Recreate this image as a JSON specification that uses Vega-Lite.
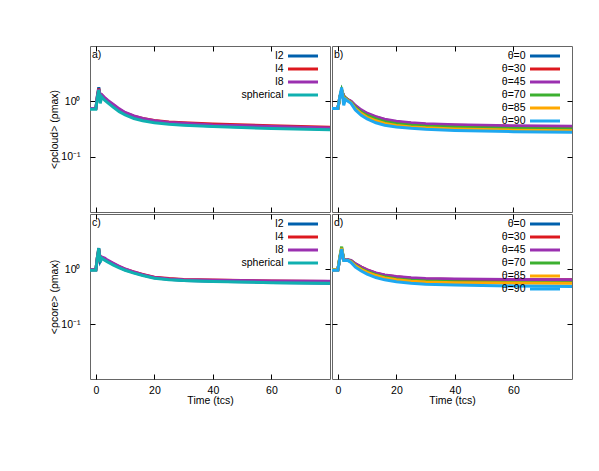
{
"$schema":"https://vega.github.io/schema/vega-lite/v6.json",
"padding":{"left":49,"top":45,"right":5,"bottom":5},
"config":{"font":"Liberation Sans","view":{"stroke":"#666","strokeWidth":1},"concat":{"spacing":0},
"axis":{"grid":false,"domain":false,"tickColor":"black","tickSize":-5,"labelFontSize":10.5,"titleFontSize":10.5,"titleFontWeight":"normal","labelColor":"black","titleColor":"black","labelPadding":11},
"axisY":{"labelPadding":15,"titlePadding":1},
"axisX":{"titlePadding":0},
"title":{"fontSize":10.5,"fontWeight":"normal","anchor":"start","frame":"group","offset":-15,"dx":2,"color":"black"},
"legend":{"orient":"none","title":null,"symbolType":"M-3.75,0H3.75","symbolSize":64,"symbolStrokeWidth":3,"symbolFillColor":"transparent","labelAlign":"right","labelOffset":-25,"labelFontSize":10.5,"labelColor":"black","rowPadding":0}},
"data":{"values":[
{"p":"a","s":"l2","t":-2,"v":0.74},{"p":"a","s":"l2","t":0,"v":0.74},{"p":"a","s":"l2","t":0.5,"v":1.25},{"p":"a","s":"l2","t":1,"v":1.8},{"p":"a","s":"l2","t":1.5,"v":1.15},{"p":"a","s":"l2","t":2,"v":1.28},{"p":"a","s":"l2","t":3,"v":1.12},{"p":"a","s":"l2","t":4,"v":1.0},{"p":"a","s":"l2","t":6,"v":0.83},{"p":"a","s":"l2","t":8,"v":0.69},{"p":"a","s":"l2","t":10,"v":0.6},{"p":"a","s":"l2","t":13,"v":0.52},{"p":"a","s":"l2","t":16,"v":0.47},{"p":"a","s":"l2","t":20,"v":0.43},{"p":"a","s":"l2","t":25,"v":0.4},{"p":"a","s":"l2","t":30,"v":0.38},{"p":"a","s":"l2","t":40,"v":0.36},{"p":"a","s":"l2","t":60,"v":0.335},{"p":"a","s":"l2","t":80,"v":0.316},
{"p":"a","s":"l4","t":-2,"v":0.74},{"p":"a","s":"l4","t":0,"v":0.74},{"p":"a","s":"l4","t":0.5,"v":1.2},{"p":"a","s":"l4","t":1,"v":1.7},{"p":"a","s":"l4","t":1.5,"v":1.2},{"p":"a","s":"l4","t":2,"v":1.3},{"p":"a","s":"l4","t":3,"v":1.14},{"p":"a","s":"l4","t":4,"v":1.02},{"p":"a","s":"l4","t":6,"v":0.85},{"p":"a","s":"l4","t":8,"v":0.71},{"p":"a","s":"l4","t":10,"v":0.62},{"p":"a","s":"l4","t":13,"v":0.54},{"p":"a","s":"l4","t":16,"v":0.49},{"p":"a","s":"l4","t":20,"v":0.45},{"p":"a","s":"l4","t":25,"v":0.425},{"p":"a","s":"l4","t":30,"v":0.41},{"p":"a","s":"l4","t":40,"v":0.39},{"p":"a","s":"l4","t":60,"v":0.362},{"p":"a","s":"l4","t":80,"v":0.34},
{"p":"a","s":"l8","t":-2,"v":0.74},{"p":"a","s":"l8","t":0,"v":0.74},{"p":"a","s":"l8","t":0.5,"v":1.2},{"p":"a","s":"l8","t":1,"v":1.65},{"p":"a","s":"l8","t":1.5,"v":1.22},{"p":"a","s":"l8","t":2,"v":1.32},{"p":"a","s":"l8","t":3,"v":1.17},{"p":"a","s":"l8","t":4,"v":1.05},{"p":"a","s":"l8","t":6,"v":0.88},{"p":"a","s":"l8","t":8,"v":0.73},{"p":"a","s":"l8","t":10,"v":0.63},{"p":"a","s":"l8","t":13,"v":0.545},{"p":"a","s":"l8","t":16,"v":0.49},{"p":"a","s":"l8","t":20,"v":0.445},{"p":"a","s":"l8","t":25,"v":0.415},{"p":"a","s":"l8","t":30,"v":0.4},{"p":"a","s":"l8","t":40,"v":0.375},{"p":"a","s":"l8","t":60,"v":0.35},{"p":"a","s":"l8","t":80,"v":0.33},
{"p":"a","s":"spherical","t":-2,"v":0.72},{"p":"a","s":"spherical","t":0,"v":0.72},{"p":"a","s":"spherical","t":0.5,"v":1.15},{"p":"a","s":"spherical","t":1,"v":1.6},{"p":"a","s":"spherical","t":1.5,"v":0.92},{"p":"a","s":"spherical","t":2,"v":1.2},{"p":"a","s":"spherical","t":3,"v":1.05},{"p":"a","s":"spherical","t":4,"v":0.95},{"p":"a","s":"spherical","t":6,"v":0.78},{"p":"a","s":"spherical","t":8,"v":0.65},{"p":"a","s":"spherical","t":10,"v":0.57},{"p":"a","s":"spherical","t":13,"v":0.49},{"p":"a","s":"spherical","t":16,"v":0.445},{"p":"a","s":"spherical","t":20,"v":0.41},{"p":"a","s":"spherical","t":25,"v":0.385},{"p":"a","s":"spherical","t":30,"v":0.37},{"p":"a","s":"spherical","t":40,"v":0.35},{"p":"a","s":"spherical","t":60,"v":0.323},{"p":"a","s":"spherical","t":80,"v":0.305},
{"p":"b","s":"θ=0","t":-2,"v":0.74},{"p":"b","s":"θ=0","t":0,"v":0.74},{"p":"b","s":"θ=0","t":0.7,"v":1.2},{"p":"b","s":"θ=0","t":1.3,"v":1.6},{"p":"b","s":"θ=0","t":2,"v":1.25},{"p":"b","s":"θ=0","t":2.6,"v":1.15},{"p":"b","s":"θ=0","t":3.5,"v":1.05},{"p":"b","s":"θ=0","t":4.5,"v":0.98},{"p":"b","s":"θ=0","t":6,"v":0.81},{"p":"b","s":"θ=0","t":8,"v":0.67},{"p":"b","s":"θ=0","t":10,"v":0.585},{"p":"b","s":"θ=0","t":13,"v":0.51},{"p":"b","s":"θ=0","t":16,"v":0.455},{"p":"b","s":"θ=0","t":20,"v":0.415},{"p":"b","s":"θ=0","t":25,"v":0.393},{"p":"b","s":"θ=0","t":30,"v":0.378},{"p":"b","s":"θ=0","t":40,"v":0.362},{"p":"b","s":"θ=0","t":60,"v":0.345},{"p":"b","s":"θ=0","t":80,"v":0.336},
{"p":"b","s":"θ=30","t":-2,"v":0.74},{"p":"b","s":"θ=30","t":0,"v":0.74},{"p":"b","s":"θ=30","t":0.7,"v":1.2},{"p":"b","s":"θ=30","t":1.3,"v":1.55},{"p":"b","s":"θ=30","t":2,"v":1.25},{"p":"b","s":"θ=30","t":2.6,"v":1.15},{"p":"b","s":"θ=30","t":3.5,"v":1.06},{"p":"b","s":"θ=30","t":4.5,"v":0.99},{"p":"b","s":"θ=30","t":6,"v":0.82},{"p":"b","s":"θ=30","t":8,"v":0.68},{"p":"b","s":"θ=30","t":10,"v":0.595},{"p":"b","s":"θ=30","t":13,"v":0.52},{"p":"b","s":"θ=30","t":16,"v":0.465},{"p":"b","s":"θ=30","t":20,"v":0.425},{"p":"b","s":"θ=30","t":25,"v":0.4},{"p":"b","s":"θ=30","t":30,"v":0.385},{"p":"b","s":"θ=30","t":40,"v":0.369},{"p":"b","s":"θ=30","t":60,"v":0.352},{"p":"b","s":"θ=30","t":80,"v":0.342},
{"p":"b","s":"θ=45","t":-2,"v":0.74},{"p":"b","s":"θ=45","t":0,"v":0.74},{"p":"b","s":"θ=45","t":0.7,"v":1.2},{"p":"b","s":"θ=45","t":1.3,"v":1.5},{"p":"b","s":"θ=45","t":2,"v":1.25},{"p":"b","s":"θ=45","t":2.6,"v":1.15},{"p":"b","s":"θ=45","t":3.5,"v":1.07},{"p":"b","s":"θ=45","t":4.5,"v":1.0},{"p":"b","s":"θ=45","t":6,"v":0.84},{"p":"b","s":"θ=45","t":8,"v":0.7},{"p":"b","s":"θ=45","t":10,"v":0.61},{"p":"b","s":"θ=45","t":13,"v":0.53},{"p":"b","s":"θ=45","t":16,"v":0.475},{"p":"b","s":"θ=45","t":20,"v":0.435},{"p":"b","s":"θ=45","t":25,"v":0.41},{"p":"b","s":"θ=45","t":30,"v":0.395},{"p":"b","s":"θ=45","t":40,"v":0.378},{"p":"b","s":"θ=45","t":60,"v":0.362},{"p":"b","s":"θ=45","t":80,"v":0.355},
{"p":"b","s":"θ=70","t":-2,"v":0.74},{"p":"b","s":"θ=70","t":0,"v":0.74},{"p":"b","s":"θ=70","t":0.7,"v":1.2},{"p":"b","s":"θ=70","t":1.3,"v":1.6},{"p":"b","s":"θ=70","t":2,"v":1.2},{"p":"b","s":"θ=70","t":2.6,"v":1.15},{"p":"b","s":"θ=70","t":3.5,"v":1.04},{"p":"b","s":"θ=70","t":4.5,"v":0.96},{"p":"b","s":"θ=70","t":6,"v":0.78},{"p":"b","s":"θ=70","t":8,"v":0.64},{"p":"b","s":"θ=70","t":10,"v":0.555},{"p":"b","s":"θ=70","t":13,"v":0.48},{"p":"b","s":"θ=70","t":16,"v":0.43},{"p":"b","s":"θ=70","t":20,"v":0.393},{"p":"b","s":"θ=70","t":25,"v":0.37},{"p":"b","s":"θ=70","t":30,"v":0.356},{"p":"b","s":"θ=70","t":40,"v":0.34},{"p":"b","s":"θ=70","t":60,"v":0.323},{"p":"b","s":"θ=70","t":80,"v":0.315},
{"p":"b","s":"θ=85","t":-2,"v":0.74},{"p":"b","s":"θ=85","t":0,"v":0.74},{"p":"b","s":"θ=85","t":0.7,"v":1.2},{"p":"b","s":"θ=85","t":1.3,"v":1.65},{"p":"b","s":"θ=85","t":2,"v":1.1},{"p":"b","s":"θ=85","t":2.6,"v":1.12},{"p":"b","s":"θ=85","t":3.5,"v":1.02},{"p":"b","s":"θ=85","t":4.5,"v":0.94},{"p":"b","s":"θ=85","t":6,"v":0.74},{"p":"b","s":"θ=85","t":8,"v":0.6},{"p":"b","s":"θ=85","t":10,"v":0.515},{"p":"b","s":"θ=85","t":13,"v":0.445},{"p":"b","s":"θ=85","t":16,"v":0.4},{"p":"b","s":"θ=85","t":20,"v":0.367},{"p":"b","s":"θ=85","t":25,"v":0.345},{"p":"b","s":"θ=85","t":30,"v":0.332},{"p":"b","s":"θ=85","t":40,"v":0.317},{"p":"b","s":"θ=85","t":60,"v":0.301},{"p":"b","s":"θ=85","t":80,"v":0.294},
{"p":"b","s":"θ=90","t":-2,"v":0.74},{"p":"b","s":"θ=90","t":0,"v":0.74},{"p":"b","s":"θ=90","t":0.7,"v":1.25},{"p":"b","s":"θ=90","t":1.3,"v":1.77},{"p":"b","s":"θ=90","t":2,"v":0.85},{"p":"b","s":"θ=90","t":2.6,"v":1.09},{"p":"b","s":"θ=90","t":3.5,"v":1.0},{"p":"b","s":"θ=90","t":4.5,"v":0.92},{"p":"b","s":"θ=90","t":6,"v":0.7},{"p":"b","s":"θ=90","t":8,"v":0.56},{"p":"b","s":"θ=90","t":10,"v":0.48},{"p":"b","s":"θ=90","t":13,"v":0.41},{"p":"b","s":"θ=90","t":16,"v":0.37},{"p":"b","s":"θ=90","t":20,"v":0.345},{"p":"b","s":"θ=90","t":25,"v":0.325},{"p":"b","s":"θ=90","t":30,"v":0.312},{"p":"b","s":"θ=90","t":40,"v":0.298},{"p":"b","s":"θ=90","t":60,"v":0.283},{"p":"b","s":"θ=90","t":80,"v":0.275},
{"p":"c","s":"l2","t":-2,"v":0.97},{"p":"c","s":"l2","t":0,"v":0.97},{"p":"c","s":"l2","t":0.5,"v":1.6},{"p":"c","s":"l2","t":1,"v":2.4},{"p":"c","s":"l2","t":1.5,"v":1.4},{"p":"c","s":"l2","t":2,"v":1.6},{"p":"c","s":"l2","t":3,"v":1.5},{"p":"c","s":"l2","t":4,"v":1.38},{"p":"c","s":"l2","t":6,"v":1.22},{"p":"c","s":"l2","t":8,"v":1.08},{"p":"c","s":"l2","t":10,"v":0.97},{"p":"c","s":"l2","t":13,"v":0.86},{"p":"c","s":"l2","t":16,"v":0.78},{"p":"c","s":"l2","t":20,"v":0.69},{"p":"c","s":"l2","t":25,"v":0.65},{"p":"c","s":"l2","t":30,"v":0.62},{"p":"c","s":"l2","t":40,"v":0.6},{"p":"c","s":"l2","t":60,"v":0.57},{"p":"c","s":"l2","t":80,"v":0.55},
{"p":"c","s":"l4","t":-2,"v":0.97},{"p":"c","s":"l4","t":0,"v":0.97},{"p":"c","s":"l4","t":0.5,"v":1.6},{"p":"c","s":"l4","t":1,"v":2.3},{"p":"c","s":"l4","t":1.5,"v":1.5},{"p":"c","s":"l4","t":2,"v":1.62},{"p":"c","s":"l4","t":3,"v":1.52},{"p":"c","s":"l4","t":4,"v":1.4},{"p":"c","s":"l4","t":6,"v":1.24},{"p":"c","s":"l4","t":8,"v":1.1},{"p":"c","s":"l4","t":10,"v":0.99},{"p":"c","s":"l4","t":13,"v":0.88},{"p":"c","s":"l4","t":16,"v":0.8},{"p":"c","s":"l4","t":20,"v":0.71},{"p":"c","s":"l4","t":25,"v":0.67},{"p":"c","s":"l4","t":30,"v":0.645},{"p":"c","s":"l4","t":40,"v":0.63},{"p":"c","s":"l4","t":60,"v":0.605},{"p":"c","s":"l4","t":80,"v":0.595},
{"p":"c","s":"l8","t":-2,"v":0.97},{"p":"c","s":"l8","t":0,"v":0.97},{"p":"c","s":"l8","t":0.5,"v":1.55},{"p":"c","s":"l8","t":1,"v":2.2},{"p":"c","s":"l8","t":1.5,"v":1.55},{"p":"c","s":"l8","t":2,"v":1.65},{"p":"c","s":"l8","t":3,"v":1.58},{"p":"c","s":"l8","t":4,"v":1.45},{"p":"c","s":"l8","t":6,"v":1.27},{"p":"c","s":"l8","t":8,"v":1.12},{"p":"c","s":"l8","t":10,"v":1.0},{"p":"c","s":"l8","t":13,"v":0.88},{"p":"c","s":"l8","t":16,"v":0.79},{"p":"c","s":"l8","t":20,"v":0.7},{"p":"c","s":"l8","t":25,"v":0.66},{"p":"c","s":"l8","t":30,"v":0.64},{"p":"c","s":"l8","t":40,"v":0.625},{"p":"c","s":"l8","t":60,"v":0.605},{"p":"c","s":"l8","t":80,"v":0.6},
{"p":"c","s":"spherical","t":-2,"v":0.95},{"p":"c","s":"spherical","t":0,"v":0.95},{"p":"c","s":"spherical","t":0.5,"v":1.6},{"p":"c","s":"spherical","t":1,"v":2.38},{"p":"c","s":"spherical","t":1.5,"v":1.32},{"p":"c","s":"spherical","t":2,"v":1.58},{"p":"c","s":"spherical","t":3,"v":1.45},{"p":"c","s":"spherical","t":4,"v":1.35},{"p":"c","s":"spherical","t":6,"v":1.18},{"p":"c","s":"spherical","t":8,"v":1.05},{"p":"c","s":"spherical","t":10,"v":0.95},{"p":"c","s":"spherical","t":13,"v":0.84},{"p":"c","s":"spherical","t":16,"v":0.76},{"p":"c","s":"spherical","t":20,"v":0.68},{"p":"c","s":"spherical","t":25,"v":0.64},{"p":"c","s":"spherical","t":30,"v":0.615},{"p":"c","s":"spherical","t":40,"v":0.595},{"p":"c","s":"spherical","t":60,"v":0.565},{"p":"c","s":"spherical","t":80,"v":0.55},
{"p":"d","s":"θ=0","t":-2,"v":0.97},{"p":"d","s":"θ=0","t":0,"v":0.97},{"p":"d","s":"θ=0","t":0.7,"v":1.6},{"p":"d","s":"θ=0","t":1.3,"v":2.3},{"p":"d","s":"θ=0","t":2,"v":1.5},{"p":"d","s":"θ=0","t":2.6,"v":1.45},{"p":"d","s":"θ=0","t":3.5,"v":1.45},{"p":"d","s":"θ=0","t":4.5,"v":1.4},{"p":"d","s":"θ=0","t":6,"v":1.2},{"p":"d","s":"θ=0","t":8,"v":1.04},{"p":"d","s":"θ=0","t":10,"v":0.93},{"p":"d","s":"θ=0","t":13,"v":0.82},{"p":"d","s":"θ=0","t":16,"v":0.75},{"p":"d","s":"θ=0","t":20,"v":0.68},{"p":"d","s":"θ=0","t":25,"v":0.645},{"p":"d","s":"θ=0","t":30,"v":0.625},{"p":"d","s":"θ=0","t":40,"v":0.605},{"p":"d","s":"θ=0","t":60,"v":0.587},{"p":"d","s":"θ=0","t":80,"v":0.578},
{"p":"d","s":"θ=30","t":-2,"v":0.97},{"p":"d","s":"θ=30","t":0,"v":0.97},{"p":"d","s":"θ=30","t":0.7,"v":1.6},{"p":"d","s":"θ=30","t":1.3,"v":2.3},{"p":"d","s":"θ=30","t":2,"v":1.5},{"p":"d","s":"θ=30","t":2.6,"v":1.45},{"p":"d","s":"θ=30","t":3.5,"v":1.46},{"p":"d","s":"θ=30","t":4.5,"v":1.42},{"p":"d","s":"θ=30","t":6,"v":1.24},{"p":"d","s":"θ=30","t":8,"v":1.08},{"p":"d","s":"θ=30","t":10,"v":0.96},{"p":"d","s":"θ=30","t":13,"v":0.84},{"p":"d","s":"θ=30","t":16,"v":0.77},{"p":"d","s":"θ=30","t":20,"v":0.72},{"p":"d","s":"θ=30","t":25,"v":0.68},{"p":"d","s":"θ=30","t":30,"v":0.66},{"p":"d","s":"θ=30","t":40,"v":0.645},{"p":"d","s":"θ=30","t":60,"v":0.637},{"p":"d","s":"θ=30","t":80,"v":0.635},
{"p":"d","s":"θ=45","t":-2,"v":0.97},{"p":"d","s":"θ=45","t":0,"v":0.97},{"p":"d","s":"θ=45","t":0.7,"v":1.6},{"p":"d","s":"θ=45","t":1.3,"v":2.2},{"p":"d","s":"θ=45","t":2,"v":1.5},{"p":"d","s":"θ=45","t":2.6,"v":1.45},{"p":"d","s":"θ=45","t":3.5,"v":1.47},{"p":"d","s":"θ=45","t":4.5,"v":1.43},{"p":"d","s":"θ=45","t":6,"v":1.25},{"p":"d","s":"θ=45","t":8,"v":1.08},{"p":"d","s":"θ=45","t":10,"v":0.96},{"p":"d","s":"θ=45","t":13,"v":0.85},{"p":"d","s":"θ=45","t":16,"v":0.78},{"p":"d","s":"θ=45","t":20,"v":0.73},{"p":"d","s":"θ=45","t":25,"v":0.69},{"p":"d","s":"θ=45","t":30,"v":0.67},{"p":"d","s":"θ=45","t":40,"v":0.655},{"p":"d","s":"θ=45","t":60,"v":0.643},{"p":"d","s":"θ=45","t":80,"v":0.638},
{"p":"d","s":"θ=70","t":-2,"v":0.97},{"p":"d","s":"θ=70","t":0,"v":0.97},{"p":"d","s":"θ=70","t":0.7,"v":1.7},{"p":"d","s":"θ=70","t":1.3,"v":2.55},{"p":"d","s":"θ=70","t":2,"v":1.45},{"p":"d","s":"θ=70","t":2.6,"v":1.44},{"p":"d","s":"θ=70","t":3.5,"v":1.44},{"p":"d","s":"θ=70","t":4.5,"v":1.38},{"p":"d","s":"θ=70","t":6,"v":1.17},{"p":"d","s":"θ=70","t":8,"v":1.01},{"p":"d","s":"θ=70","t":10,"v":0.9},{"p":"d","s":"θ=70","t":13,"v":0.79},{"p":"d","s":"θ=70","t":16,"v":0.72},{"p":"d","s":"θ=70","t":20,"v":0.66},{"p":"d","s":"θ=70","t":25,"v":0.625},{"p":"d","s":"θ=70","t":30,"v":0.605},{"p":"d","s":"θ=70","t":40,"v":0.585},{"p":"d","s":"θ=70","t":60,"v":0.57},{"p":"d","s":"θ=70","t":80,"v":0.56},
{"p":"d","s":"θ=85","t":-2,"v":0.97},{"p":"d","s":"θ=85","t":0,"v":0.97},{"p":"d","s":"θ=85","t":0.7,"v":1.65},{"p":"d","s":"θ=85","t":1.3,"v":2.4},{"p":"d","s":"θ=85","t":2,"v":1.45},{"p":"d","s":"θ=85","t":2.6,"v":1.43},{"p":"d","s":"θ=85","t":3.5,"v":1.43},{"p":"d","s":"θ=85","t":4.5,"v":1.36},{"p":"d","s":"θ=85","t":6,"v":1.14},{"p":"d","s":"θ=85","t":8,"v":0.98},{"p":"d","s":"θ=85","t":10,"v":0.87},{"p":"d","s":"θ=85","t":13,"v":0.76},{"p":"d","s":"θ=85","t":16,"v":0.69},{"p":"d","s":"θ=85","t":20,"v":0.635},{"p":"d","s":"θ=85","t":25,"v":0.6},{"p":"d","s":"θ=85","t":30,"v":0.58},{"p":"d","s":"θ=85","t":40,"v":0.565},{"p":"d","s":"θ=85","t":60,"v":0.556},{"p":"d","s":"θ=85","t":80,"v":0.55},
{"p":"d","s":"θ=90","t":-2,"v":0.95},{"p":"d","s":"θ=90","t":0,"v":0.95},{"p":"d","s":"θ=90","t":0.7,"v":1.6},{"p":"d","s":"θ=90","t":1.3,"v":2.3},{"p":"d","s":"θ=90","t":2,"v":1.42},{"p":"d","s":"θ=90","t":2.6,"v":1.42},{"p":"d","s":"θ=90","t":3.5,"v":1.42},{"p":"d","s":"θ=90","t":4.5,"v":1.32},{"p":"d","s":"θ=90","t":6,"v":1.08},{"p":"d","s":"θ=90","t":8,"v":0.92},{"p":"d","s":"θ=90","t":10,"v":0.81},{"p":"d","s":"θ=90","t":13,"v":0.7},{"p":"d","s":"θ=90","t":16,"v":0.635},{"p":"d","s":"θ=90","t":20,"v":0.585},{"p":"d","s":"θ=90","t":25,"v":0.55},{"p":"d","s":"θ=90","t":30,"v":0.53},{"p":"d","s":"θ=90","t":40,"v":0.51},{"p":"d","s":"θ=90","t":60,"v":0.492},{"p":"d","s":"θ=90","t":80,"v":0.48}
]},
"resolve":{"scale":{"color":"independent"},"legend":{"color":"independent"}},
"vconcat":[
{"resolve":{"scale":{"color":"independent"},"legend":{"color":"independent"}},
"hconcat":[
{"width":240,"height":166,"title":{"text":"a)"},"transform":[{"filter":"datum.p=='a'"}],
"layer":[
{"mark":{"type":"line","strokeWidth":3,"clip":true},
"encoding":{
"x":{"field":"t","type":"quantitative","scale":{"domain":[-2,80],"nice":false,"zero":false},"axis":{"values":[0,20,40,60],"labels":false,"title":null}},
"y":{"field":"v","type":"quantitative","scale":{"type":"log","domain":[0.01,10],"nice":false},"axis":{"values":[0.1,1],"labelExpr":"datum.value > 0.5 ? '10⁰' : '10⁻¹'","title":"<ρcloud> (ρmax)"}},
"color":{"field":"s","type":"nominal","scale":{"domain":["l2","l4","l8","spherical"],"range":["#0060ad","#dd181f","#9b30b0","#10b0b0"]},"legend":{"legendX":207.5,"legendY":4.5,"rowPadding":0}}}},
{"mark":{"type":"line","opacity":0},
"encoding":{
"x":{"field":"t","type":"quantitative","axis":{"orient":"top","values":[0,20,40,60],"labels":false,"title":null}},
"y":{"field":"v","type":"quantitative","axis":{"orient":"right","values":[0.1,1],"labels":false,"title":null}}}}],
"resolve":{"axis":{"x":"independent","y":"independent"}}},
{"width":240,"height":166,"title":{"text":"b)"},"transform":[{"filter":"datum.p=='b'"}],
"layer":[
{"mark":{"type":"line","strokeWidth":3,"clip":true},
"encoding":{
"x":{"field":"t","type":"quantitative","scale":{"domain":[-2,80],"nice":false,"zero":false},"axis":{"values":[0,20,40,60],"labels":false,"title":null}},
"y":{"field":"v","type":"quantitative","scale":{"type":"log","domain":[0.01,10],"nice":false},"axis":{"values":[0.1,1],"labels":false,"title":null}},
"color":{"field":"s","type":"nominal","scale":{"domain":["θ=0","θ=30","θ=45","θ=70","θ=85","θ=90"],"range":["#0060ad","#dd181f","#9b30b0","#3cb030","#ffa800","#1ea8f0"]},"legend":{"legendX":207.5,"legendY":4.5,"rowPadding":0}}}},
{"mark":{"type":"line","opacity":0},
"encoding":{
"x":{"field":"t","type":"quantitative","axis":{"orient":"top","values":[0,20,40,60],"labels":false,"title":null}},
"y":{"field":"v","type":"quantitative","axis":{"orient":"right","values":[0.1,1],"labels":false,"title":null}}}}],
"resolve":{"axis":{"x":"independent","y":"independent"}}}
]},
{"resolve":{"scale":{"color":"independent"},"legend":{"color":"independent"}},
"hconcat":[
{"width":240,"height":165,"title":{"text":"c)"},"transform":[{"filter":"datum.p=='c'"}],
"layer":[
{"mark":{"type":"line","strokeWidth":3,"clip":true},
"encoding":{
"x":{"field":"t","type":"quantitative","scale":{"domain":[-2,80],"nice":false,"zero":false},"axis":{"values":[0,20,40,60],"title":"Time (tcs)"}},
"y":{"field":"v","type":"quantitative","scale":{"type":"log","domain":[0.01,10],"nice":false},"axis":{"values":[0.1,1],"labelExpr":"datum.value > 0.5 ? '10⁰' : '10⁻¹'","title":"<ρcore> (ρmax)"}},
"color":{"field":"s","type":"nominal","scale":{"domain":["l2","l4","l8","spherical"],"range":["#0060ad","#dd181f","#9b30b0","#10b0b0"]},"legend":{"legendX":207.5,"legendY":4.5,"rowPadding":0}}}},
{"mark":{"type":"line","opacity":0},
"encoding":{
"x":{"field":"t","type":"quantitative","axis":{"orient":"top","values":[0,20,40,60],"labels":false,"title":null}},
"y":{"field":"v","type":"quantitative","axis":{"orient":"right","values":[0.1,1],"labels":false,"title":null}}}}],
"resolve":{"axis":{"x":"independent","y":"independent"}}},
{"width":240,"height":165,"title":{"text":"d)"},"transform":[{"filter":"datum.p=='d'"}],
"layer":[
{"mark":{"type":"line","strokeWidth":3,"clip":true},
"encoding":{
"x":{"field":"t","type":"quantitative","scale":{"domain":[-2,80],"nice":false,"zero":false},"axis":{"values":[0,20,40,60],"title":"Time (tcs)"}},
"y":{"field":"v","type":"quantitative","scale":{"type":"log","domain":[0.01,10],"nice":false},"axis":{"values":[0.1,1],"labels":false,"title":null}},
"color":{"field":"s","type":"nominal","scale":{"domain":["θ=0","θ=30","θ=45","θ=70","θ=85","θ=90"],"range":["#0060ad","#dd181f","#9b30b0","#3cb030","#ffa800","#1ea8f0"]},"legend":{"legendX":207.5,"legendY":4.5,"rowPadding":0}}}},
{"mark":{"type":"line","opacity":0},
"encoding":{
"x":{"field":"t","type":"quantitative","axis":{"orient":"top","values":[0,20,40,60],"labels":false,"title":null}},
"y":{"field":"v","type":"quantitative","axis":{"orient":"right","values":[0.1,1],"labels":false,"title":null}}}}],
"resolve":{"axis":{"x":"independent","y":"independent"}}}
]}
]
}
